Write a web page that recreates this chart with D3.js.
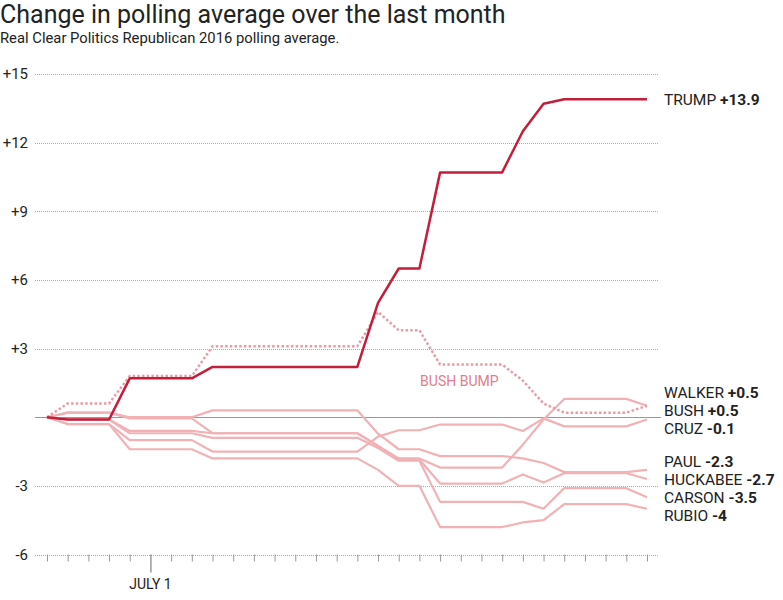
<!DOCTYPE html>
<html>
<head>
<meta charset="utf-8">
<script src="https://cdn.jsdelivr.net/npm/d3@7"></script>
<style>
body{margin:0;background:#fff;}
svg{display:block;font-family:Roboto,"Noto Sans",sans-serif;}
</style>
</head>
<body>
<svg id="chart" width="783" height="600"></svg>
<script>
// days of the month shown (one point per day)
const dates = ["2015-06-26","2015-06-27","2015-06-28","2015-06-29","2015-06-30",
	"2015-07-01","2015-07-02","2015-07-03","2015-07-04","2015-07-05",
	"2015-07-06","2015-07-07","2015-07-08","2015-07-09","2015-07-10",
	"2015-07-11","2015-07-12","2015-07-13","2015-07-14","2015-07-15",
	"2015-07-16","2015-07-17","2015-07-18","2015-07-19","2015-07-20",
	"2015-07-21","2015-07-22","2015-07-23","2015-07-24","2015-07-25"];

const yTicks = [15,12,9,6,3,-3,-6];

// change in polling average vs. the first day
const trump    = [0,-0.1,-0.1,-0.1,1.7,1.7,1.7,1.7,2.2,2.2,2.2,2.2,2.2,2.2,2.2,2.2,5.0,6.5,6.5,10.7,10.7,10.7,10.7,12.5,13.7,13.9,13.9,13.9,13.9,13.9];
const bush     = [0,0.6,0.6,0.6,1.8,1.8,1.8,1.8,3.1,3.1,3.1,3.1,3.1,3.1,3.1,3.1,4.6,3.8,3.8,2.3,2.3,2.3,2.3,1.6,0.6,0.2,0.2,0.2,0.2,0.5];
const walker   = [0,0.2,0.2,0.2,-0.05,-0.05,-0.05,-0.05,-0.7,-0.7,-0.7,-0.7,-0.7,-0.7,-0.7,-0.7,-1.25,-1.8,-1.8,-2.2,-2.2,-2.2,-2.2,-1.2,-0.1,0.8,0.8,0.8,0.8,0.5];
const cruz     = [0,-0.3,-0.3,-0.3,-1.0,-1.0,-1.0,-1.0,-1.5,-1.5,-1.5,-1.5,-1.5,-1.5,-1.5,-1.5,-0.85,-0.57,-0.57,-0.32,-0.32,-0.32,-0.32,-0.6,-0.05,-0.4,-0.4,-0.4,-0.4,-0.1];
const paul     = [0,0.2,0.2,0.2,0,0,0,0,0.3,0.3,0.3,0.3,0.3,0.3,0.3,0.3,-0.72,-1.4,-1.4,-1.7,-1.7,-1.7,-1.7,-1.8,-2.0,-2.4,-2.4,-2.4,-2.4,-2.3];
const huckabee = [0,-0.1,-0.1,-0.1,-0.6,-0.6,-0.6,-0.6,-0.7,-0.7,-0.7,-0.7,-0.7,-0.7,-0.7,-0.7,-1.25,-1.85,-1.85,-2.9,-2.9,-2.9,-2.9,-2.5,-2.85,-2.45,-2.45,-2.45,-2.45,-2.7];
const carson   = [0,-0.1,-0.1,-0.1,-0.7,-0.7,-0.7,-0.7,-0.9,-0.9,-0.9,-0.9,-0.9,-0.9,-0.9,-0.9,-1.35,-1.9,-1.9,-3.7,-3.7,-3.7,-3.7,-3.7,-4.0,-3.1,-3.1,-3.1,-3.1,-3.5];
const rubio    = [0,-0.3,-0.3,-0.3,-1.4,-1.4,-1.4,-1.4,-1.8,-1.8,-1.8,-1.8,-1.8,-1.8,-1.8,-1.8,-2.3,-3.0,-3.0,-4.8,-4.8,-4.8,-4.8,-4.6,-4.5,-3.8,-3.8,-3.8,-3.8,-4.0];

const names = ["TRUMP","WALKER","BUSH","CRUZ","PAUL","HUCKABEE","CARSON","RUBIO"];
const series = [trump,walker,bush,cruz,paul,huckabee,carson,rubio];

const parse = d3.timeParse("%Y-%m-%d");
const days = dates.map(parse);

let svg = d3.select("#chart");

let x = d3.scaleTime()
	.domain(d3.extent(days))
	.range([47,647]);

let y = d3.scaleLinear()
	.domain([-6,15])
	.range([554.5,74]);

// title
svg.append("text")
	.attr("x",0)
	.attr("y",23)
	.attr("font-size",25)
	.attr("fill","#222")
	.text("Change in polling average over the last month");

svg.append("text")
	.attr("x",0)
	.attr("y",43)
	.attr("font-size",14.8)
	.attr("fill","#222")
	.text("Real Clear Politics Republican 2016 polling average.");

// grid
svg.append("g")
	.selectAll("line")
	.data(yTicks)
	.join("line")
		.attr("x1",35)
		.attr("x2",658)
		.attr("y1",d=>Math.round(y(d))+0.5)
		.attr("y2",d=>Math.round(y(d))+0.5)
		.attr("stroke","#aaa")
		.attr("stroke-width",1)
		.attr("stroke-dasharray","1,1");

svg.append("g")
	.selectAll("text")
	.data(yTicks)
	.join("text")
		.attr("x",28)
		.attr("y",d=>y(d))
		.attr("dy","0.36em")
		.attr("text-anchor","end")
		.attr("font-size",15)
		.attr("fill","#222")
		.text(d=>d>0 ? "+"+d : String(d));

svg.append("line")
	.attr("x1",35)
	.attr("x2",661)
	.attr("y1",Math.round(y(0))+0.5)
	.attr("y2",Math.round(y(0))+0.5)
	.attr("stroke","#999")
	.attr("stroke-width",1);

// x axis: one tick per day
let xAxis = d3.axisBottom(x)
	.ticks(d3.timeDay.every(1))
	.tickSize(7)
	.tickFormat("");

let ax = svg.append("g")
	.attr("transform","translate(0,"+y(-6)+")")
	.call(xAxis);

ax.select(".domain").remove();
ax.selectAll(".tick line")
	.attr("stroke","#999");

let july1 = parse("2015-07-01");
ax.selectAll(".tick")
	.filter(d=>+d === +july1)
	.select("line")
		.attr("y2",18)
		.attr("stroke","#666");

svg.append("text")
	.attr("x",x(july1))
	.attr("y",y(-6)+34)
	.attr("text-anchor","middle")
	.attr("font-size",14)
	.attr("fill","#222")
	.text("JULY 1");

// lines
let line = d3.line()
	.x((d,i)=>x(days[i]))
	.y(d=>y(d));

let others = [walker,cruz,paul,huckabee,carson,rubio];

svg.append("g")
	.selectAll("path")
	.data(others)
	.join("path")
		.attr("d",line)
		.attr("fill","none")
		.attr("stroke","#f1b1b5")
		.attr("stroke-width",2.2)
		.attr("stroke-linejoin","round");

svg.append("path")
	.attr("d",line(bush))
	.attr("fill","none")
	.attr("stroke","#eb9ba4")
	.attr("stroke-width",2.5)
	.attr("stroke-dasharray","2.5,2.2");

svg.append("path")
	.attr("d",line(trump))
	.attr("fill","none")
	.attr("stroke","#c41e3a")
	.attr("stroke-width",2.5)
	.attr("stroke-linejoin","round");

svg.append("text")
	.attr("x",x(days[19])-20)
	.attr("y",y(1.35))
	.attr("font-size",14)
	.attr("fill","#e37d8b")
	.text("BUSH BUMP");

// end labels, spread so they don't collide
let labels = names.map((n,i)=>{
	let v = series[i][series[i].length-1];
	return {name:n, value:v, y:y(v)};
});

let minGap = 18;
let sorted = labels.slice().sort((a,b)=>a.y-b.y);
for (let k=0; k<200; k++) {
	for (let i=1; i<sorted.length; i++) {
		let gap = sorted[i].y-sorted[i-1].y;
		if (gap<minGap) {
			let s=(minGap-gap)/2;
			sorted[i].y+=s;
			sorted[i-1].y-=s;
		}
	}
}

let lab = svg.append("g")
	.selectAll("text")
	.data(labels)
	.join("text")
		.attr("x",664)
		.attr("y",d=>d.y)
		.attr("dy","0.36em")
		.attr("font-size",15.5)
		.attr("fill","#222");

lab.append("tspan")
	.text(d=>d.name+" ");

lab.append("tspan")
	.attr("font-weight","bold")
	.text(d=>(d.value>0?"+":"")+d.value);

</script>
</body>
</html>
